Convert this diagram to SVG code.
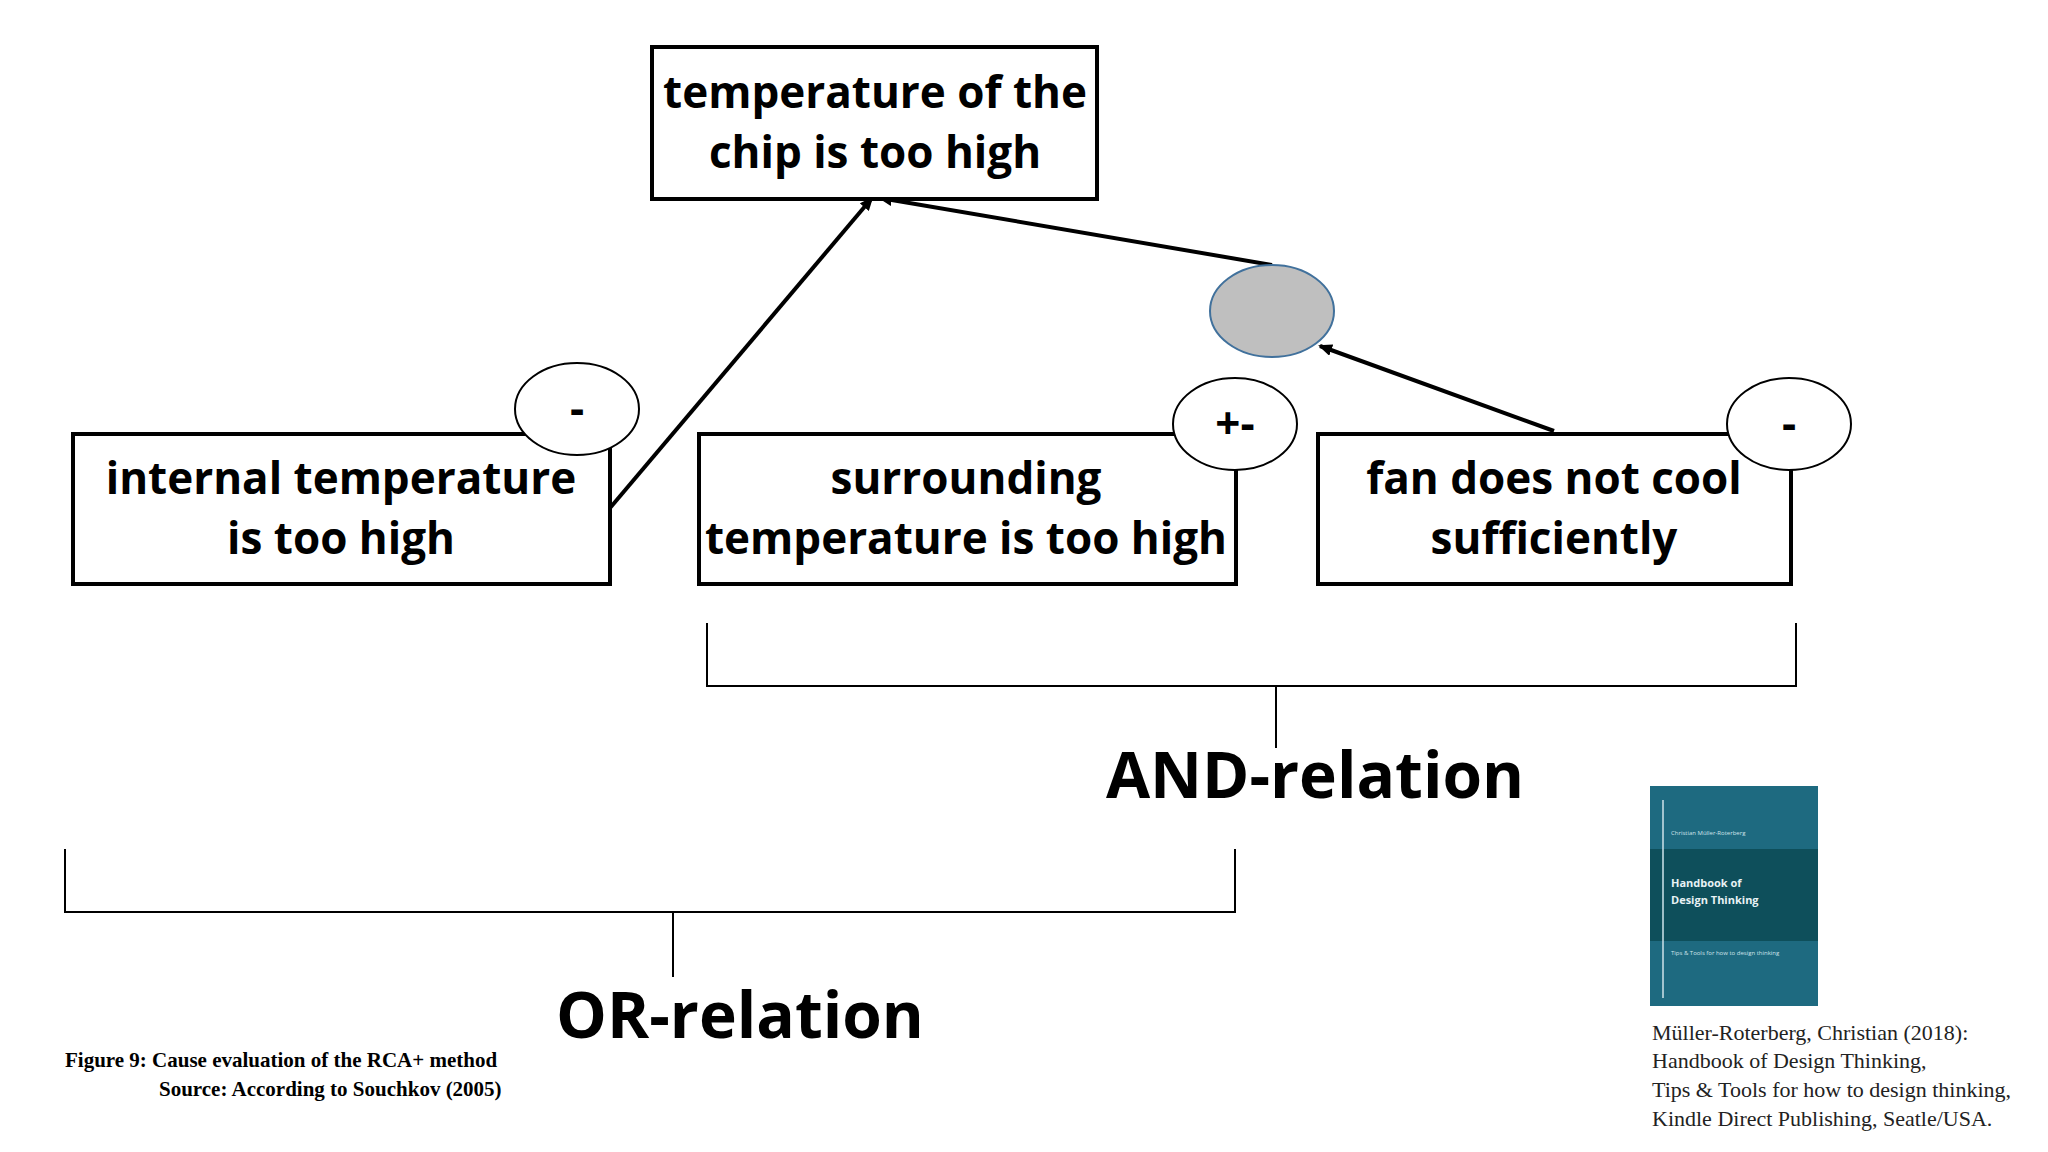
<svg xmlns="http://www.w3.org/2000/svg" width="2048" height="1152" viewBox="0 0 2048 1152">
<style>
.box{fill:#fff;stroke:#000;stroke-width:4}
.circ{fill:#fff;stroke:#000;stroke-width:2}
.nt{font-family:"Open Sans",sans-serif;font-weight:bold;font-size:44px;text-anchor:middle;fill:#000}
.lbl{font-family:"Open Sans",sans-serif;font-weight:bold;font-size:64px;text-anchor:middle}
.con{stroke:#000;stroke-width:4;fill:none}
.br{stroke:#000;stroke-width:2;fill:none}
.cap{font-family:"Liberation Serif",serif;font-weight:bold;font-size:21px}
.cit{font-family:"Liberation Serif",serif;font-size:22px;fill:#222}
</style>
<defs><marker id="ah" markerWidth="8" markerHeight="8" refX="6" refY="4" orient="auto" markerUnits="userSpaceOnUse"><path d="M0,0 L8,4 L0,8 z" fill="#000"/></marker>
<marker id="ah2" markerWidth="14" markerHeight="12" refX="12" refY="6" orient="auto" markerUnits="userSpaceOnUse"><path d="M0,0 L14,6 L0,12 z" fill="#000"/></marker></defs>
<rect width="2048" height="1152" fill="#fff"/>
<g id="connectors">
<line class="con" x1="610" y1="508" x2="872" y2="198" stroke-width="3.5" marker-end="url(#ah2)"/>
<line class="con" x1="1272" y1="265" x2="880" y2="198" marker-end="url(#ah2)"/>
<line class="con" x1="1554" y1="431" x2="1320" y2="346" marker-end="url(#ah2)"/>
</g>
<g id="top"><rect class="box" x="652" y="47" width="445" height="152"/>
<text class="nt" x="875" y="108">temperature of the</text><text class="nt" x="875" y="168">chip is too high</text></g>
<g id="internal"><rect class="box" x="73" y="434" width="537" height="150"/>
<text class="nt" x="341" y="494">internal temperature</text><text class="nt" x="341" y="554">is too high</text></g>
<g id="surrounding"><rect class="box" x="699" y="434" width="537" height="150"/>
<text class="nt" x="966" y="494">surrounding</text><text class="nt" x="966" y="554">temperature is too high</text></g>
<g id="fan"><rect class="box" x="1318" y="434" width="473" height="150"/>
<text class="nt" x="1554" y="494">fan does not cool</text><text class="nt" x="1554" y="554">sufficiently</text></g>
<g id="c1"><ellipse class="circ" cx="577" cy="409" rx="62" ry="46"/><text class="nt" x="577" y="424">-</text></g>
<g id="c2"><ellipse class="circ" cx="1235" cy="424" rx="62" ry="46"/><text class="nt" x="1235" y="439">+-</text></g>
<g id="c3"><ellipse class="circ" cx="1789" cy="424" rx="62" ry="46"/><text class="nt" x="1789" y="439">-</text></g>
<g id="and-node"><ellipse cx="1272" cy="311" rx="62" ry="46" fill="#bfbfbf" stroke="#41719c" stroke-width="2"/></g>
<g id="brackets">
<path class="br" d="M707,623 V686 H1796 V623 M1276,686 V748"/>
<path class="br" d="M65,849 V912 H1235 V849 M673,912 V977"/>
</g>
<text class="lbl" x="1315" y="798">AND-relation</text>
<text class="lbl" x="740" y="1038">OR-relation</text>
<text class="cap" x="65" y="1067">Figure 9: Cause evaluation of the RCA+ method</text>
<text class="cap" x="159" y="1096">Source: According to Souchkov (2005)</text>
<g id="book">
<rect x="1650" y="786" width="168" height="220" fill="#1e6a80"/>
<rect x="1650" y="849" width="168" height="92" fill="#0e4f5b"/>
<line x1="1663" y1="800" x2="1663" y2="998" stroke="#cfe3ea" stroke-width="1.5"/>
<text x="1671" y="835" font-family="Open Sans,sans-serif" font-size="6" fill="#cfe3ea">Christian Müller-Roterberg</text>
<text x="1671" y="887" font-family="Open Sans,sans-serif" font-weight="bold" font-size="11" fill="#e8f2f5">Handbook of</text>
<text x="1671" y="904" font-family="Open Sans,sans-serif" font-weight="bold" font-size="11" fill="#e8f2f5">Design Thinking</text>
<text x="1671" y="955" font-family="Open Sans,sans-serif" font-size="6" fill="#cfe3ea">Tips &amp; Tools for how to design thinking</text>
</g>
<text class="cit" x="1652" y="1040">Müller-Roterberg, Christian (2018):</text>
<text class="cit" x="1652" y="1068">Handbook of Design Thinking,</text>
<text class="cit" x="1652" y="1097">Tips &amp; Tools for how to design thinking,</text>
<text class="cit" x="1652" y="1126">Kindle Direct Publishing, Seatle/USA.</text>
</svg>
